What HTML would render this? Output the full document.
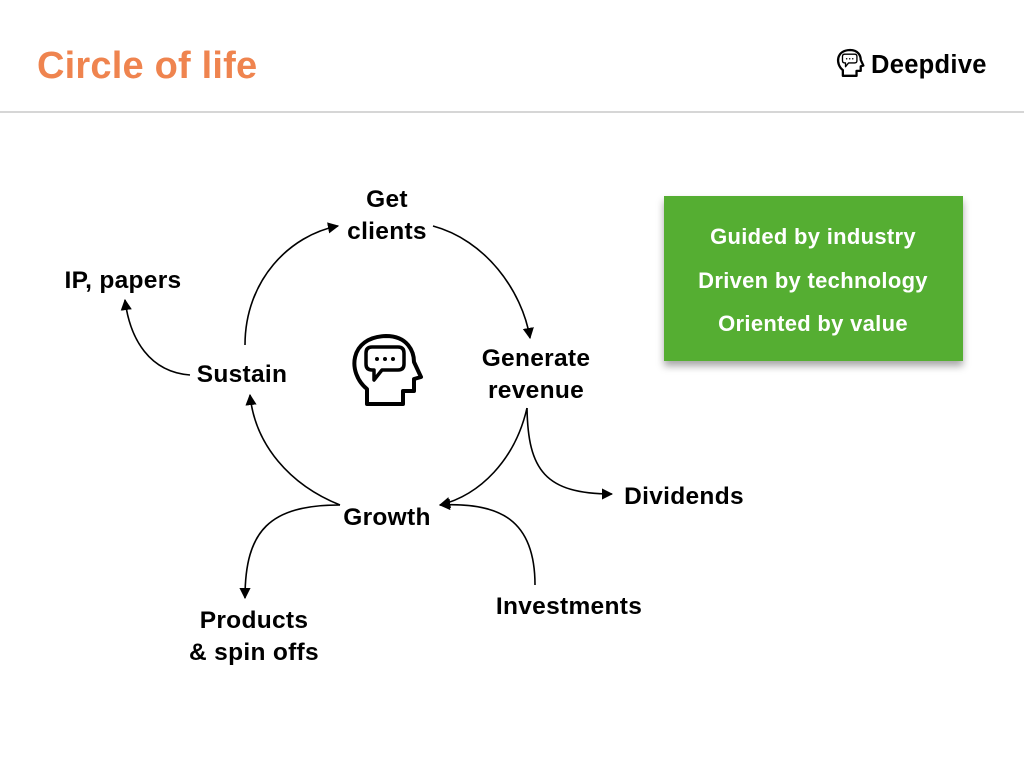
<!DOCTYPE html>
<html><head><meta charset="utf-8"><style>
body{margin:0;width:1024px;height:768px;background:#fff;overflow:hidden;font-family:"Liberation Sans",Arial,sans-serif}
svg{display:block}
.l{font-weight:bold;font-size:24.5px;fill:#000;text-anchor:middle;letter-spacing:0.3px}
.g{font-weight:bold;font-size:22px;fill:#fff;text-anchor:middle;letter-spacing:0.3px}
.a{fill:none;stroke:#000;stroke-width:1.6;marker-end:url(#ah)}
</style></head><body>
<svg width="1024" height="768">
<defs>
<marker id="ah" viewBox="0 0 10 10" refX="9" refY="5" markerWidth="7" markerHeight="7" orient="auto-start-reverse"><path d="M0,0 L10,5 L0,10 z" fill="#000"/></marker>
<filter id="sh" x="-10%" y="-10%" width="120%" height="130%"><feDropShadow dx="0" dy="5" stdDeviation="4" flood-color="#000" flood-opacity="0.35"/></filter>
<g id="head">
<path d="M367,404 L367,389 C347,373 349,337 386,336 C408,336 414,352 414,362 L421,377 L414,379 L414,391 L403,391 L403,404 Z"/>
<path d="M372,347 H398 Q404,347 404,353 V364 Q404,370 398,370 H382 L374,380 V370 H372 Q366,370 366,364 V353 Q366,347 372,347 Z" stroke-width="3.5"/>
<g fill="#000" stroke="none"><circle cx="377" cy="359" r="2"/><circle cx="385" cy="359" r="2"/><circle cx="393" cy="359" r="2"/></g>
</g>
</defs>
<text x="37" y="78" font-size="38" font-weight="bold" fill="#EF844F" letter-spacing="0.2">Circle of life</text>
<g>
<g transform="translate(703.4,-77.7) scale(0.38)" fill="none" stroke="#000" stroke-width="6" stroke-linejoin="round"><use href="#head"/></g>
<text x="871" y="73" font-size="25.5" font-weight="bold" fill="#000" letter-spacing="0.3">Deepdive</text>
</g>
<line x1="0" y1="112" x2="1024" y2="112" stroke="#d6d6d6" stroke-width="2"/>
<rect x="664" y="196" width="299" height="165" fill="#55AE33" filter="url(#sh)"/>
<text class="g" x="813" y="244">Guided by industry</text>
<text class="g" x="813" y="288">Driven by technology</text>
<text class="g" x="813" y="331">Oriented by value</text>
<g fill="none" stroke="#000" stroke-width="4" stroke-linejoin="round"><use href="#head"/></g>
<text class="l" x="387" y="207">Get</text>
<text class="l" x="387" y="239">clients</text>
<text class="l" x="536" y="366">Generate</text>
<text class="l" x="536" y="398">revenue</text>
<text class="l" x="242" y="382">Sustain</text>
<text class="l" x="123" y="288">IP, papers</text>
<text class="l" x="387" y="525">Growth</text>
<text class="l" x="684" y="504">Dividends</text>
<text class="l" x="569" y="614">Investments</text>
<text class="l" x="254" y="628">Products</text>
<text class="l" x="254" y="660">&amp; spin offs</text>
<path class="a" d="M245,345 C245,280 290,235 338,226"/>
<path class="a" d="M433,226 C485,240 522,290 530,338"/>
<path class="a" d="M527,408 C515,460 480,495 440,505"/>
<path class="a" d="M340,505 C290,485 255,445 250,395"/>
<path class="a" d="M190,375 C150,372 130,340 125,300"/>
<path class="a" d="M527,408 C528,470 545,494 612,494"/>
<path class="a" d="M340,505 C270,505 245,530 245,598"/>
<path class="a" d="M535,585 C535,520 500,502 440,505"/>
</svg>
</body></html>
